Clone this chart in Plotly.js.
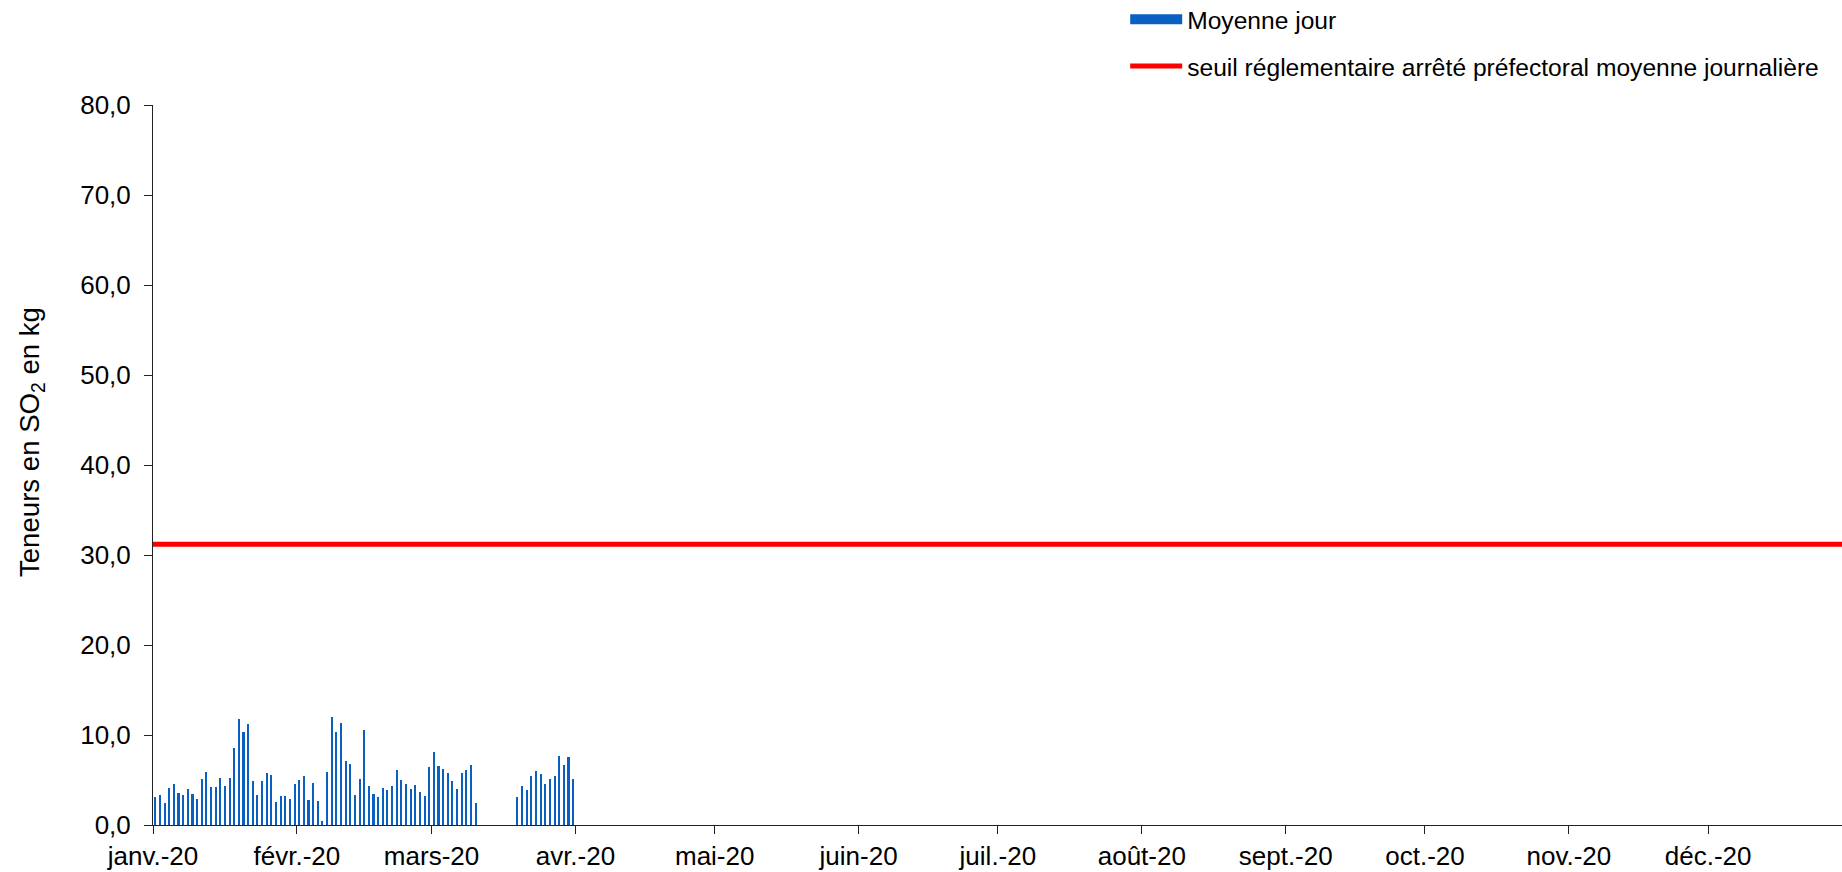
<!DOCTYPE html>
<html>
<head>
<meta charset="utf-8">
<script src="https://cdn.plot.ly/plotly-3.0.1.min.js"></script>
<style>
  body { margin: 0; background: #fff; }
  #plot { width: 1842px; height: 872px; }
</style>
</head>
<body>
<div id="plot"></div>
<script>
// daily averages, 1 Jan -> 31 Mar 2020 (null = no measure)
let startDay = "2020-01-01";
let moyenneJour = [
    // janvier
    3.15, 3.33, 2.44, 4.11, 4.52, 3.59, 3.37, 4.0, 3.48, 2.93,
    5.15, 5.93, 4.26, 4.26, 5.22, 4.3, 5.26, 8.59, 11.78, 10.33,
    11.26, 4.93, 3.33, 4.93, 5.78, 5.56, 2.59, 3.26, 3.19, 2.89, 4.52,
    // fevrier
    5.04, 5.48, 2.78, 4.67, 2.63, 0.44, 5.93, 12.04, 10.37, 11.33,
    7.15, 6.78, 3.33, 5.11, 10.56, 4.3, 3.44, 3.15, 4.07, 3.89,
    4.33, 6.11, 5.0, 4.56, 4.0, 4.44, 3.63, 3.22, 6.41,
    // mars
    8.11, 6.56, 6.22, 5.78, 4.93, 4.0, 5.8, 6.11, 6.67, 2.44,
    null, null, null, null, null, null, null, null,
    3.15, 4.37, 3.89, 5.48, 6.04, 5.7, 4.59, 5.11, 5.41, 7.63, 6.7, 7.52, 5.15
];

// threshold line
let seuilDates = ["2020-01-01", "2021-01-01"];
let seuilValues = [31.2, 31.2];

// month ticks
let monthTicks = ["2020-01-01", "2020-02-01", "2020-03-01", "2020-04-01", "2020-05-01", "2020-06-01",
    "2020-07-01", "2020-08-01", "2020-09-01", "2020-10-01", "2020-11-01", "2020-12-01"];
let monthLabels = ["janv.-20", "févr.-20", "mars-20", "avr.-20", "mai-20", "juin-20",
    "juil.-20", "août-20", "sept.-20", "oct.-20", "nov.-20", "déc.-20"];

const DAY = 86400000;

// one date per value
let days = moyenneJour.map((v, i) => {
    let d = new Date(Date.parse(startDay) + i * DAY);
    return d.toISOString().slice(0, 10);
});

let blue = "#0a60c2";
let font = "Liberation Sans, Arial, sans-serif";
let axisColor = "#222";
let xRange = ["2020-01-01", "2020-12-29 20:00"];

let barTrace = {
    x: days,
    y: moyenneJour,
    type: "bar",
    xperiod: DAY,
    xperiodalignment: "middle",
    width: 0.45 * DAY,
    marker: { color: blue },
    showlegend: false,
    hoverinfo: "skip"
};

// legend entry drawn as a wide blue rectangle
let barLegend = {
    x: [null],
    y: [null],
    type: "scatter",
    mode: "lines",
    name: "Moyenne jour",
    line: { color: blue, width: 12 },
    legend: "legend"
};

let seuilTrace = {
    x: seuilDates,
    y: seuilValues,
    type: "scatter",
    mode: "lines",
    name: "seuil réglementaire arrêté préfectoral moyenne journalière",
    line: { color: "#ff0000", width: 5 },
    legend: "legend2",
    hoverinfo: "skip"
};

let data = [barTrace, seuilTrace, barLegend];

let legendFont = { family: font, size: 24.6, color: "#000" };

let layout = {
    width: 1842,
    height: 872,
    margin: { l: 153, r: 0, t: 105, b: 47, pad: 0, autoexpand: false },
    paper_bgcolor: "#fff",
    plot_bgcolor: "#fff",
    font: { family: font, size: 26, color: "#000" },
    separators: ", ",
    bargap: 0,
    xaxis: {
        type: "date",
        range: xRange,
        tickvals: monthTicks,
        ticktext: monthLabels,
        ticks: "outside",
        ticklen: 8,
        tickcolor: axisColor,
        showline: true,
        linecolor: axisColor,
        linewidth: 1,
        showgrid: false,
        zeroline: false,
        tickfont: { family: font, size: 26, color: "#000" }
    },
    xaxis2: {
        type: "date",
        overlaying: "x",
        anchor: "y",
        range: xRange,
        tickvals: monthTicks,
        ticks: "inside",
        ticklen: 8,
        tickcolor: axisColor,
        showticklabels: false,
        showline: false,
        showgrid: false,
        zeroline: false
    },
    yaxis: {
        range: [0, 80],
        dtick: 10,
        tickformat: ".1f",
        ticks: "outside",
        ticklen: 8,
        tickcolor: axisColor,
        ticklabelstandoff: 8,
        showline: true,
        linecolor: axisColor,
        linewidth: 1,
        showgrid: false,
        zeroline: false,
        tickfont: { family: font, size: 26, color: "#000" }
    },
    yaxis2: {
        overlaying: "y",
        anchor: "x",
        range: [0, 80],
        dtick: 10,
        ticks: "inside",
        ticklen: 8,
        tickcolor: axisColor,
        showticklabels: false,
        showline: false,
        showgrid: false,
        zeroline: false
    },
    // y axis title sits a bit above the middle of the axis
    annotations: [{
        text: "Teneurs en SO<sub>2</sub> en kg",
        xref: "paper",
        yref: "paper",
        x: -0.0716,
        y: 0.532,
        xanchor: "center",
        yanchor: "middle",
        textangle: -90,
        showarrow: false,
        font: { family: font, size: 27.6, color: "#000" }
    }],
    legend: {
        x: 0.5756,
        xanchor: "left",
        y: 1.119,
        yanchor: "middle",
        itemwidth: 52,
        bgcolor: "rgba(0,0,0,0)",
        font: legendFont
    },
    legend2: {
        x: 0.5756,
        xanchor: "left",
        y: 1.054,
        yanchor: "middle",
        itemwidth: 52,
        bgcolor: "rgba(0,0,0,0)",
        font: legendFont
    }
};

Plotly.newPlot("plot", data, layout, { staticPlot: true, displayModeBar: false });
</script>
</body>
</html>
